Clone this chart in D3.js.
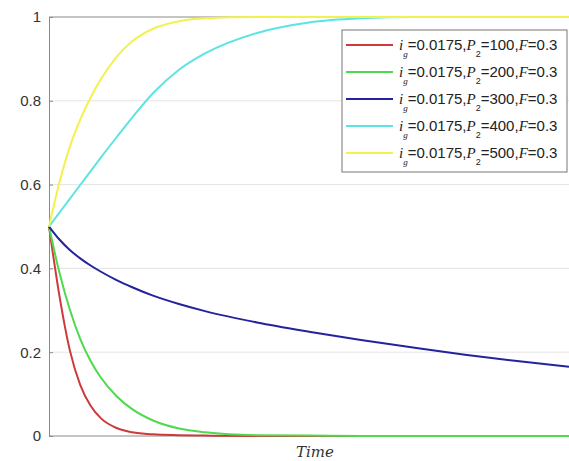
<!DOCTYPE html>
<html><head><meta charset="utf-8">
<script src="https://cdn.jsdelivr.net/npm/d3@7"></script>
<style>body{margin:0;background:#fff}</style>
</head><body>
<svg id="c" width="569" height="461"></svg>
<script>
const times = [0, 2, 4, 6, 8, 10, 13, 16, 20, 25, 30, 40, 50, 60, 70, 80, 90, 100];
const red    = [0.5, 0.335, 0.205, 0.122, 0.072, 0.042, 0.019, 0.009, 0.004, 0.002, 0.001, 0, 0, 0, 0, 0, 0, 0];
const green  = [0.5, 0.39, 0.302, 0.232, 0.179, 0.139, 0.095, 0.064, 0.037, 0.018, 0.009, 0.002, 0.001, 0, 0, 0, 0, 0];
const blue   = [0.5, 0.469, 0.444, 0.424, 0.407, 0.392, 0.372, 0.355, 0.335, 0.315, 0.298, 0.271, 0.249, 0.229, 0.211, 0.194, 0.179, 0.165];
const cyan   = [0.5, 0.533, 0.566, 0.599, 0.632, 0.665, 0.713, 0.76, 0.818, 0.874, 0.913, 0.962, 0.987, 0.997, 1, 1, 1, 1];
const yellow = [0.5, 0.605, 0.69, 0.755, 0.808, 0.852, 0.905, 0.942, 0.972, 0.99, 0.997, 1, 1, 1, 1, 1, 1, 1];
const p2Values = ["100", "200", "300", "400", "500"];
const yTicks = [0, 0.2, 0.4, 0.6, 0.8, 1];
const yTickLabels = ["0", "0.2", "0.4", "0.6", "0.8", "1"];

const seriesList = [red, green, blue, cyan, yellow];
const colors = ["#cc3a3a", "#4fd94f", "#23239e", "#5ce3e3", "#f2f24f"];

const svg = d3.select("#c");
const L = 49, R = 569, T = 17, B = 436;
const x = d3.scaleLinear().domain([0, 100]).range([L, R]);
const y = d3.scaleLinear().domain([0, 1]).range([B, T]);

// gridlines
svg.append("g").selectAll("line").data(yTicks.slice(1, -1)).join("line")
  .attr("x1", L).attr("x2", R).attr("y1", d => y(d)).attr("y2", d => y(d))
  .attr("stroke", "#e4e4e4").attr("stroke-width", 1);

// y axis
const yAxis = d3.axisLeft(y).tickValues(yTicks).tickFormat((d, i) => yTickLabels[i]).tickSize(-4).tickPadding(8);
const ga = svg.append("g").attr("transform", `translate(${L},0)`).call(yAxis);
ga.select(".domain").attr("stroke", "#8a8a8a");
ga.selectAll(".tick line").attr("stroke", "#8a8a8a");
ga.selectAll(".tick text").attr("font-family", "Liberation Sans, Arial, sans-serif").attr("font-size", 15).attr("fill", "#333");

// bottom and top lines
svg.append("line").attr("x1", L).attr("x2", R).attr("y1", B).attr("y2", B).attr("stroke", "#8a8a8a");
svg.append("line").attr("x1", L).attr("x2", R).attr("y1", T).attr("y2", T).attr("stroke", "#8a8a8a");

// lines
const line = d3.line().x((d, i) => x(times[i])).y(d => y(d)).curve(d3.curveMonotoneX);
svg.append("g").selectAll("path").data(seriesList).join("path")
  .attr("d", d => line(d)).attr("fill", "none")
  .attr("stroke", (d, i) => colors[i]).attr("stroke-width", 2);

// x label
svg.append("text").attr("x", (L + R) / 2 + 6).attr("y", 457).attr("text-anchor", "middle")
  .attr("font-family", "DejaVu Serif, Liberation Serif, serif").attr("font-style", "italic")
  .attr("font-size", 15).attr("fill", "#333").text("Time");

// legend
const lg = svg.append("g");
lg.append("rect").attr("x", 342).attr("y", 30).attr("width", 225).attr("height", 142)
  .attr("fill", "#fff").attr("stroke", "#777").attr("stroke-width", 1);
const rowY = i => 45 + i * 27;
p2Values.forEach((p, i) => {
  lg.append("line").attr("x1", 346).attr("x2", 393).attr("y1", rowY(i)).attr("y2", rowY(i))
    .attr("stroke", colors[i]).attr("stroke-width", 2);
  const t = lg.append("text").attr("x", 399).attr("y", rowY(i) + 5)
    .attr("font-family", "Liberation Sans, Arial, sans-serif").attr("font-size", 15).attr("fill", "#222");
  t.append("tspan").attr("font-family", "Liberation Serif, serif").attr("font-style", "italic").text("i");
  t.append("tspan").attr("font-family", "Liberation Serif, serif").attr("font-style", "italic")
    .attr("font-size", 9).attr("dy", 7).text("g");
  t.append("tspan").attr("dy", -7).text("=0.0175,");
  t.append("tspan").attr("font-family", "Liberation Serif, serif").attr("font-style", "italic").text("P");
  t.append("tspan").attr("font-size", 9).attr("dy", 7).text("2");
  t.append("tspan").attr("dy", -7).text("=" + p + ",");
  t.append("tspan").attr("font-family", "Liberation Serif, serif").attr("font-style", "italic").text("F");
  t.append("tspan").text("=0.3");
});
</script>
</body></html>
